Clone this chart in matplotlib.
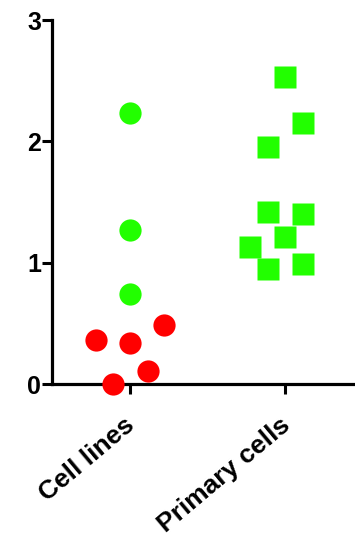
import matplotlib.pyplot as plt
import matplotlib.transforms as mtransforms
import numpy as np

plt.rcParams['font.family'] = ['Liberation Sans', 'DejaVu Sans']

groups = ["Cell lines", "Primary cells"]

# cell lines: green and red circles
cl_green_x = [1.0, 1.0, 1.0]
cl_green_y = [2.23, 1.27, 0.74]
cl_red_x = [0.78, 1.0, 1.22, 1.115, 0.89]
cl_red_y = [0.36, 0.34, 0.49, 0.11, 0.0]

# primary cells: green squares
pc_x = [2.0, 2.112, 1.888, 1.888, 2.112, 2.0, 1.775, 1.888, 2.112]
pc_y = [2.53, 2.15, 1.95, 1.42, 1.40, 1.21, 1.13, 0.95, 0.99]

green = '#22ff00'
red = '#ff0000'

fig = plt.figure(figsize=(3.55, 5.38), dpi=100)
ax = fig.add_axes([0.1465, 0.2862, 0.8535, 0.6766])

ax.plot(cl_green_x, cl_green_y, 'o', color=green, markersize=16, mec='none', clip_on=False, zorder=3)
ax.plot(cl_red_x, cl_red_y, 'o', color=red, markersize=16, mec='none', clip_on=False, zorder=3)
ax.plot(pc_x, pc_y, 's', color=green, markersize=16, mec='none', clip_on=False, zorder=3)

ax.set_xlim(0.497, 2.45)
ax.set_ylim(0, 3)
ax.set_yticks([0, 1, 2, 3])
ax.set_xticks([1, 2])
ax.set_xticklabels(groups, rotation=40, ha='right', va='top', rotation_mode='anchor')

for s in ['top', 'right']:
    ax.spines[s].set_visible(False)
for s in ['left', 'bottom']:
    ax.spines[s].set_linewidth(2.3)

ax.tick_params(axis='both', direction='out', length=7, width=2.2, labelsize=18, pad=1)
ax.tick_params(axis='x', pad=14, labelsize=19)
shift = mtransforms.ScaledTranslation(-6 / 100, 0, fig.dpi_scale_trans)
for lbl in ax.get_xticklabels():
    lbl.set_transform(lbl.get_transform() + shift)
for lbl in ax.get_xticklabels() + ax.get_yticklabels():
    lbl.set_fontweight('bold')

fig.savefig('out.png', dpi=100)
